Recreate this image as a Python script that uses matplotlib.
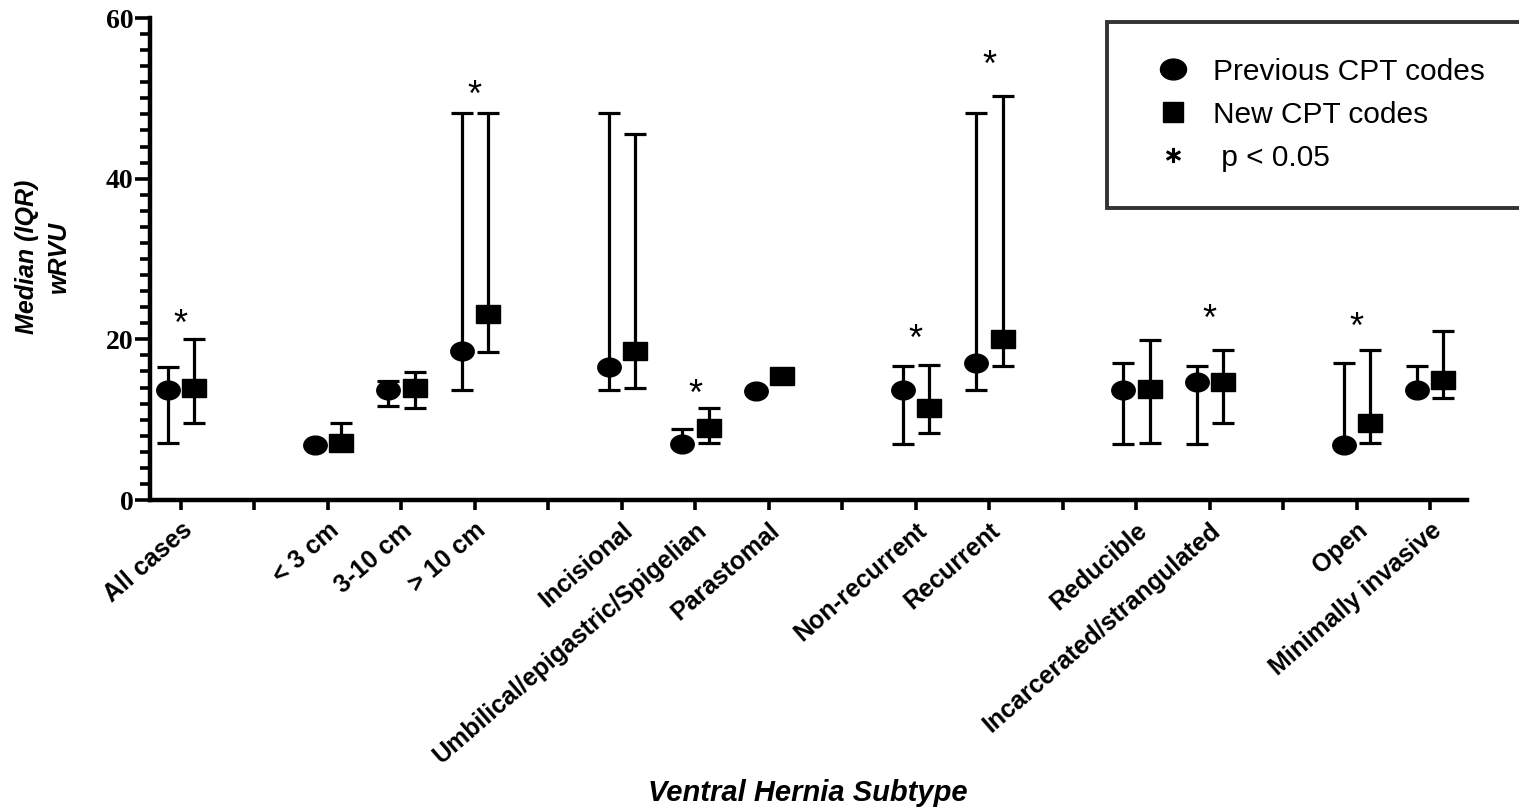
import matplotlib
matplotlib.use("Agg")
import matplotlib.pyplot as plt
from matplotlib.markers import MarkerStyle
from matplotlib.transforms import Affine2D
from matplotlib.lines import Line2D
from matplotlib.ticker import MultipleLocator

plt.rcParams['font.family'] = ['Liberation Sans', 'DejaVu Sans']

# tick labels, blank entries are the gaps between groups
tick_labels = ["All cases", "", "< 3 cm", "3-10 cm", "> 10 cm", "",
               "Incisional", "Umbilical/epigastric/Spigelian", "Parastomal", "",
               "Non-recurrent", "Recurrent", "", "Reducible",
               "Incarcerated/strangulated", "", "Open", "Minimally invasive"]

# previous CPT codes: median, lower and upper IQR
prev_med = [13.7, 6.9, 13.7, 18.6, 16.6, 7.0, 13.6, 13.7, 17.1, 13.7, 14.7, 6.9, 13.7]
prev_lo = [7.1, 6.9, 11.7, 13.7, 13.7, 7.0, 13.6, 7.0, 13.7, 7.0, 7.0, 6.9, 13.7]
prev_hi = [16.6, 6.9, 14.8, 48.2, 48.2, 8.8, 13.6, 16.7, 48.2, 17.1, 16.7, 17.1, 16.7]

# new CPT codes
new_med = [14.0, 7.1, 13.9, 23.1, 18.5, 9.0, 15.4, 11.4, 20.0, 13.8, 14.7, 9.6, 15.0]
new_lo = [9.6, 7.1, 11.4, 18.4, 14.0, 7.1, 15.4, 8.3, 16.7, 7.1, 9.6, 7.1, 12.7]
new_hi = [20.0, 9.6, 15.9, 48.2, 45.5, 11.4, 15.4, 16.8, 50.3, 19.9, 18.7, 18.7, 21.0]

# height of the significance star (None = not significant)
star_y = [22.7, None, None, 51.2, None, 14.0, None, 20.9, 55.0, None, 23.3, 22.4, None]

pos = [i for i, lab in enumerate(tick_labels) if lab]
off = 0.18

fig = plt.figure(figsize=(15.19, 8.08), dpi=100)
ax = fig.add_axes([150 / 1519, 1 - 500 / 808, (1467 - 150) / 1519, (500 - 18) / 808])

circ = MarkerStyle('o', transform=Affine2D().scale(1.25, 1.0))
sq = MarkerStyle('s', transform=Affine2D().scale(1.3, 1.0))

err_kw = dict(ls='none', color='black', ecolor='black', elinewidth=2.3,
              capsize=8, capthick=2.3, markersize=13.5, zorder=3)

xp = [p - off for p in pos]
ax.errorbar(xp, prev_med,
            yerr=[[m - lo for m, lo in zip(prev_med, prev_lo)],
                  [hi - m for m, hi in zip(prev_med, prev_hi)]],
            marker=circ, **err_kw)
xn = [p + off for p in pos]
ax.errorbar(xn, new_med,
            yerr=[[m - lo for m, lo in zip(new_med, new_lo)],
                  [hi - m for m, hi in zip(new_med, new_hi)]],
            marker=sq, **err_kw)

for p, s in zip(pos, star_y):
    if s is not None:
        ax.annotate("*", (p, s), xytext=(0, -8), textcoords='offset pixels',
                    ha='center', va='center', fontsize=26)

ax.set_xlim(-0.42, 17.5)
ax.set_ylim(0, 60)
ax.set_xticks(range(len(tick_labels)))
ax.set_xticklabels(tick_labels, rotation=41, ha='right', rotation_mode='anchor',
                   fontsize=18, fontweight='bold')
ax.yaxis.set_major_locator(MultipleLocator(20))
ax.yaxis.set_minor_locator(MultipleLocator(2))
for lab in ax.get_yticklabels():
    lab.set_family(['Liberation Serif', 'DejaVu Serif'])
    lab.set_fontweight('bold')
    lab.set_fontsize(20)

for side in ['top', 'right']:
    ax.spines[side].set_visible(False)
for side in ['left', 'bottom']:
    ax.spines[side].set_linewidth(3.2)
ax.tick_params(axis='x', length=7, width=2.6, pad=6)
ax.tick_params(axis='y', which='major', length=11, width=2.6, pad=1)
ax.tick_params(axis='y', which='minor', length=7, width=2.6)

fig.text(43 / 1519, 1 - 257 / 808, "Median (IQR)\nwRVU", rotation=90,
         ha='center', va='center', multialignment='center', linespacing=1.45,
         fontsize=18, fontweight='bold', style='italic')
fig.text(808 / 1519, 1 - 793 / 808, "Ventral Hernia Subtype", ha='center', va='center',
         fontsize=21, fontweight='bold', style='italic')

handles = [Line2D([], [], ls='none', marker=circ, color='black', markersize=15),
           Line2D([], [], ls='none', marker='s', color='black', markersize=14),
           Line2D([], [], ls='none', marker='$*$', color='black', markersize=10)]
leg = fig.legend(handles, ["Previous CPT codes", "New CPT codes", " p < 0.05"],
                 loc='upper left', bbox_to_anchor=(1107 / 1519, 1 - 22 / 808, 0.28, 0),
                 mode='expand', fontsize=21.5, frameon=True, fancybox=False,
                 borderpad=1.2, labelspacing=0.5, handletextpad=0.35,
                 borderaxespad=0)
leg.get_frame().set_edgecolor('black')
leg.get_frame().set_linewidth(2.8)

fig.savefig("out.png", dpi=100)
